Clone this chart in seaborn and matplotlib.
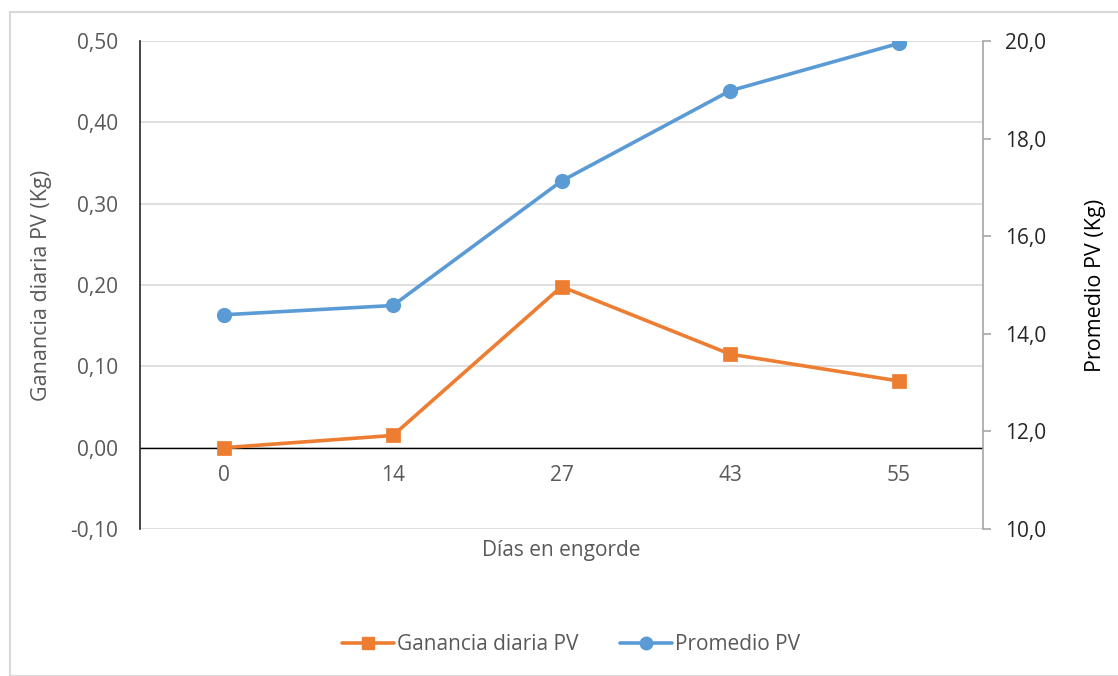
import matplotlib
matplotlib.use("Agg")
import matplotlib.pyplot as plt
import seaborn as sns
import pandas as pd
from matplotlib.lines import Line2D
from matplotlib.patches import Rectangle
from matplotlib.ticker import FuncFormatter

dias = ["0", "14", "27", "43", "55"]
ganancia = [0.000, 0.015, 0.198, 0.115, 0.082]
promedio = [14.39, 14.58, 17.13, 18.98, 19.95]
left_ticks = [-0.10, 0.00, 0.10, 0.20, 0.30, 0.40, 0.50]
right_ticks = [10.0, 12.0, 14.0, 16.0, 18.0, 20.0]

ORANGE = "#ED7D31"
BLUE = "#5B9BD5"
GRAY = "#595959"
FS = 15

sns.set_theme(style="white")
plt.rcParams["font.family"] = ["Open Sans", "DejaVu Sans"]

fig = plt.figure(figsize=(11.18, 6.76), dpi=100)
ax = fig.add_axes([140/1118, 1-529/676, (983-140)/1118, (529-41)/676])
ax2 = ax.twinx()

df = pd.DataFrame({"dias": dias, "ganancia": ganancia, "promedio": promedio})

sns.pointplot(data=df, x="dias", y="ganancia", order=dias, ax=ax, color=ORANGE,
              markers="s", markersize=8, linewidth=2.6, errorbar=None)
sns.pointplot(data=df, x="dias", y="promedio", order=dias, ax=ax2, color=BLUE,
              markers="o", markersize=9, linewidth=2.6, errorbar=None)

ax.set_xlim(-0.5, len(dias) - 0.5)
ax.set_ylim(left_ticks[0], left_ticks[-1])
ax2.set_ylim(right_ticks[0], right_ticks[-1])
ax.set_yticks(left_ticks)
ax2.set_yticks(right_ticks)
ax.yaxis.set_major_formatter(FuncFormatter(lambda v, p: f"{v:.2f}".replace(".", ",")))
ax2.yaxis.set_major_formatter(FuncFormatter(lambda v, p: f"{v:.1f}".replace(".", ",")))

for t in left_ticks:
    ax.axhline(t, color="#D9D9D9", lw=1.2, zorder=0)
ax.axhline(0, color="black", lw=1.0, zorder=1)

for s in ["top", "bottom", "right"]:
    ax.spines[s].set_visible(False)
ax.spines["left"].set_color("#262626")
ax.spines["left"].set_linewidth(1.2)
for s in ["top", "bottom", "left"]:
    ax2.spines[s].set_visible(False)
ax2.spines["right"].set_color("#A6A6A6")
ax2.spines["right"].set_linewidth(1.2)

ax.tick_params(axis="y", length=0, labelsize=FS, labelcolor=GRAY, pad=16)
ax.tick_params(axis="x", length=0, labelsize=FS, labelcolor=GRAY, pad=-46)
ax2.tick_params(axis="y", length=6, width=1.2, color="#A6A6A6", direction="out",
                labelsize=FS, labelcolor="#262626", pad=10)

ax.set_xlabel("Días en engorde", fontsize=FS, color=GRAY, labelpad=8)
ax.set_ylabel("Ganancia diaria PV (Kg)", fontsize=FS + 0.5, color=GRAY, labelpad=13)
ax2.set_ylabel("Promedio PV (Kg)", fontsize=FS + 0.5, color="black", labelpad=28)

# outer chart frame
fig.patches.append(Rectangle((10/1118, 0), 1.0, 1-12/676, transform=fig.transFigure,
                             fill=False, edgecolor="#D9D9D9", lw=1.5))

handles = [Line2D([], [], color=ORANGE, marker="s", markersize=8, lw=2.6),
           Line2D([], [], color=BLUE, marker="o", markersize=9, lw=2.6)]
leg = fig.legend(handles, ["Ganancia diaria PV", "Promedio PV"], loc="center",
                 bbox_to_anchor=(571/1118, 1-645/676), ncol=2, frameon=False,
                 fontsize=FS, handlelength=2.5, columnspacing=2.0, handletextpad=0.15)
for t in leg.get_texts():
    t.set_color(GRAY)

fig.savefig("out.png", dpi=100)
